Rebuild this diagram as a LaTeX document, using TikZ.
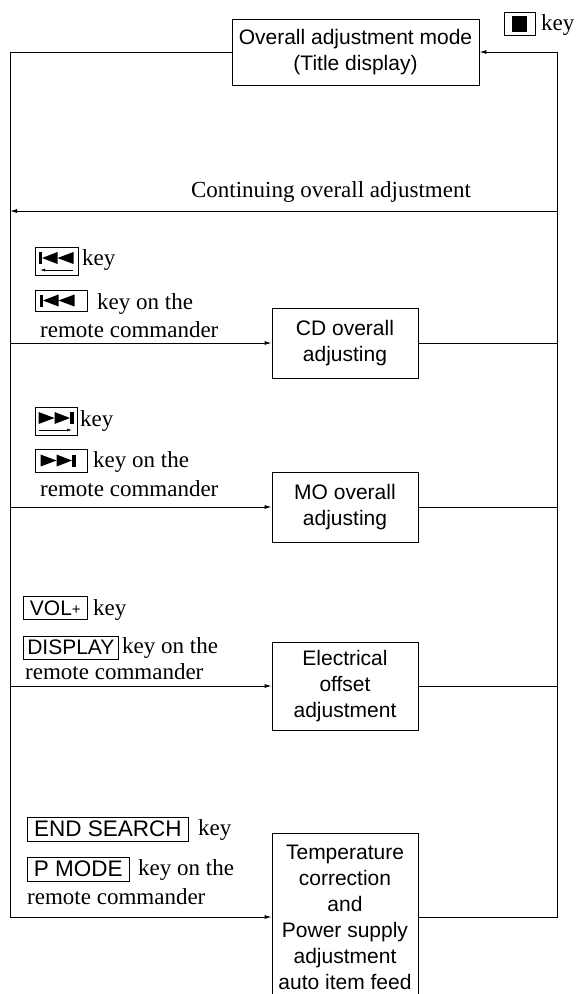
\documentclass[tikz,border=0pt]{standalone}
\usepackage{fontspec}
\setmainfont{Liberation Serif}
\setsansfont{Liberation Sans}
\usetikzlibrary{arrows.meta, positioning}

\newcommand\boxfont{\sffamily\fontsize{21}{26}\selectfont}
\newcommand\keyfont{\sffamily\fontsize{21}{22}\selectfont}
\newcommand\bigkeyfont{\sffamily\fontsize{22.5}{23}\selectfont}
\newcommand\lblfont{\fontsize{23}{28}\selectfont}

\tikzset{
  stepbox/.style={draw, line width=0.9pt, font=\boxfont, align=center,
    minimum width=146pt, inner sep=0pt},
  keycap/.style={draw, line width=0.7pt, font=\keyfont, inner sep=0pt,
    minimum height=23pt},
  lbl/.style={font=\lblfont, anchor=base west, inner sep=0pt},
  flow/.style={line width=0.9pt},
  feed/.style={flow, -{Latex[length=7pt, width=4pt]}},
  glyph arrow/.style={line width=0.6pt, -{Latex[length=5pt, width=3pt]}},
  skipback/.pic={
    \fill (-18,-6) rectangle (-14.5,6);
    \fill (-14.5,0) -- (1,-6) -- (1,6) -- cycle;
    \fill (1,0) -- (17,-6) -- (17,6) -- cycle;
  },
  skipfwd/.pic={
    \fill (18,-6) rectangle (14.5,6);
    \fill (14.5,0) -- (-1,-6) -- (-1,6) -- cycle;
    \fill (-1,0) -- (-17,-6) -- (-17,6) -- cycle;
  }
}

\begin{document}
\begin{tikzpicture}[x=1pt, y=-1pt]
\useasboundingbox (0,0) rectangle (577,994);

% steps
\node[stepbox, minimum width=247pt, minimum height=66pt] (mode) at (355.5,52)
  {Overall adjustment mode\\(Title display)};
\node[stepbox, minimum height=70pt] (cd) at (345,343) {CD overall\\adjusting};
\node[stepbox, minimum height=70pt] (mo) at (345,507) {MO overall\\adjusting};
\node[stepbox, minimum height=88pt] (eoff) at (345,686) {Electrical\\offset\\adjustment};
\node[stepbox, minimum height=168pt] (temp) at (345,917)
  {Temperature\\correction\\and\\Power supply\\adjustment\\auto item feed};

% bus corners
\coordinate (ltop) at (10,52);
\coordinate (lbot) at (10,917);
\coordinate (rtop) at (557,52);
\coordinate (rbot) at (557,917);
\coordinate (cont) at (557,211);

% left bus and feeds
\draw[flow] (mode.west) -- (ltop) -- (lbot);
\draw[feed] (lbot) -- (temp.west);
\foreach \b in {cd,mo,eoff}
  \draw[feed] (ltop |- \b) -- (\b.west);

% right bus and returns
\draw[flow] (temp.east) -- (rbot) -- (rtop);
\draw[feed] (rtop) -- (mode.east);
\foreach \b in {cd,mo,eoff}
  \draw[flow] (\b.east) -- (rtop |- \b);

% continuing
\draw[feed] (cont) -- (ltop |- cont);
\node[lbl, anchor=base] (conttext) at (331,197) {Continuing overall adjustment};

% stop key
\node[keycap, minimum width=31pt] (stopkey) at (519.5,23.5) {\rule{15pt}{16pt}};
\node[lbl] at (541,30) {key};

% CD keys
\node[keycap, minimum width=43pt, minimum height=28pt] (cdkey) at (56.5,261) {};
\pic at (56.5,258) {skipback};
\draw[glyph arrow] (73,270) -- (40,270);
\node[lbl] at (82,265) {key};
\node[keycap, minimum width=52pt, minimum height=21pt] (cdremote) at (61,300.5) {};
\pic at (57.5,300.5) {skipback};
\node[lbl] at (97,309) {key on the};
\node[lbl] at (40,337) {remote commander};

% MO keys
\node[keycap, minimum width=42pt, minimum height=28pt] (mokey) at (56,421) {};
\pic at (55.5,418) {skipfwd};
\draw[glyph arrow] (39,430) -- (72,430);
\node[lbl] at (80,426) {key};
\node[keycap, minimum width=52pt, minimum height=23pt] (moremote) at (61,460.5) {};
\pic at (57.5,460.5) {skipfwd};
\node[lbl] at (93,467) {key on the};
\node[lbl] at (40,496) {remote commander};

% offset keys
\node[keycap, minimum width=64pt, anchor=west] (volkey) at (23,608) {VOL\raisebox{1pt}{\fontsize{15}{15}\selectfont+}};
\node[lbl] at (93,615) {key};
\node[keycap, minimum width=95pt, anchor=west] (dispkey) at (23,647.5) {DISPLAY};
\node[lbl] at (122,653) {key on the};
\node[lbl] at (25,679) {remote commander};

% temperature keys
\node[keycap, font=\bigkeyfont, minimum width=161pt, minimum height=24pt, anchor=west] (endkey) at (27,829) {END SEARCH};
\node[lbl] at (198,835) {key};
\node[keycap, font=\bigkeyfont, minimum width=102pt, minimum height=24pt, anchor=west] (pmodekey) at (27,869) {P MODE};
\node[lbl] at (138,875) {key on the};
\node[lbl] at (27,904) {remote commander};

\end{tikzpicture}
\end{document}
